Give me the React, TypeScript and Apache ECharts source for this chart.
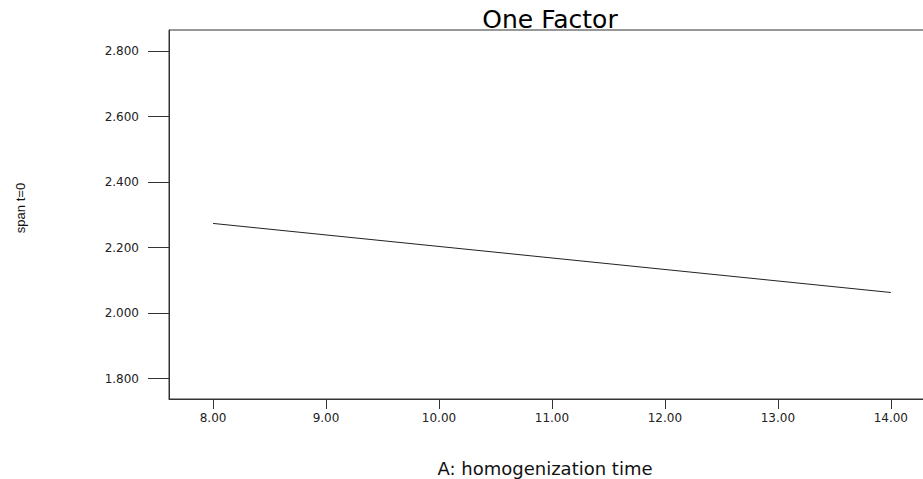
import React, { useEffect, useRef } from "react";
import * as echarts from "echarts";

const titleText = "One Factor";
const xName = "A: homogenization time";
const yName = "span t=0";
const xTicks = [8, 9, 10, 11, 12, 13, 14];
const yTicks = [1.8, 2.0, 2.2, 2.4, 2.6, 2.8];
const xValues = [8, 14];
const yValues = [2.274, 2.063];

export default function App() {
  const ref = useRef<HTMLDivElement>(null);
  useEffect(() => {
    document.body.style.overflow = "hidden";
    const chart = echarts.init(ref.current!, null, { renderer: "svg" });
    const font = "DejaVu Sans";
    chart.setOption({
      animation: false,
      backgroundColor: "#ffffff",
      grid: {
        left: 169,
        right: 4,
        top: 30,
        bottom: 80,
        show: true,
        borderColor: "#333",
        borderWidth: 1,
        backgroundColor: "transparent",
      },
      xAxis: {
        type: "value",
        min: 7.61,
        max: 14.4,
        axisLine: { show: true, onZero: false, lineStyle: { color: "#333", width: 1 } },
        axisTick: { show: true, length: 10, customValues: xTicks, lineStyle: { color: "#333" } },
        axisLabel: {
          customValues: xTicks,
          margin: 13,
          formatter: (v: number) => v.toFixed(2),
          fontFamily: font,
          fontSize: 12,
          color: "#222",
        },
        splitLine: { show: false },
      },
      yAxis: {
        type: "value",
        min: 1.7376,
        max: 2.865,
        axisLine: { show: true, onZero: false, lineStyle: { color: "#333", width: 1 } },
        axisTick: { show: true, length: 21, customValues: yTicks, lineStyle: { color: "#333" } },
        axisLabel: {
          customValues: yTicks,
          margin: 30,
          formatter: (v: number) => v.toFixed(3),
          fontFamily: font,
          fontSize: 12,
          color: "#222",
        },
        splitLine: { show: false },
      },
      series: [
        {
          type: "line",
          data: xValues.map((x, i) => [x, yValues[i]]),
          symbol: "none",
          lineStyle: { color: "#222", width: 1 },
        },
      ],
      graphic: [
        {
          type: "text",
          x: 550,
          y: 19,
          style: {
            text: titleText,
            font: `25px "${font}"`,
            fill: "#000",
            align: "center",
            verticalAlign: "middle",
          },
        },
        {
          type: "text",
          x: 545,
          y: 468,
          style: {
            text: xName,
            font: `18px "${font}"`,
            fill: "#111",
            align: "center",
            verticalAlign: "middle",
          },
        },
        {
          type: "text",
          x: 20,
          y: 208,
          rotation: Math.PI / 2,
          style: {
            text: yName,
            font: `13px "Liberation Sans"`,
            fill: "#111",
            align: "center",
            verticalAlign: "middle",
          },
        },
      ],
    });
    return () => chart.dispose();
  }, []);
  return (
    <div style={{ position: "absolute", left: 0, top: 0, width: 923, height: 479, overflow: "hidden" }}>
      <div ref={ref} style={{ width: 940, height: 479 }} />
    </div>
  );
}
